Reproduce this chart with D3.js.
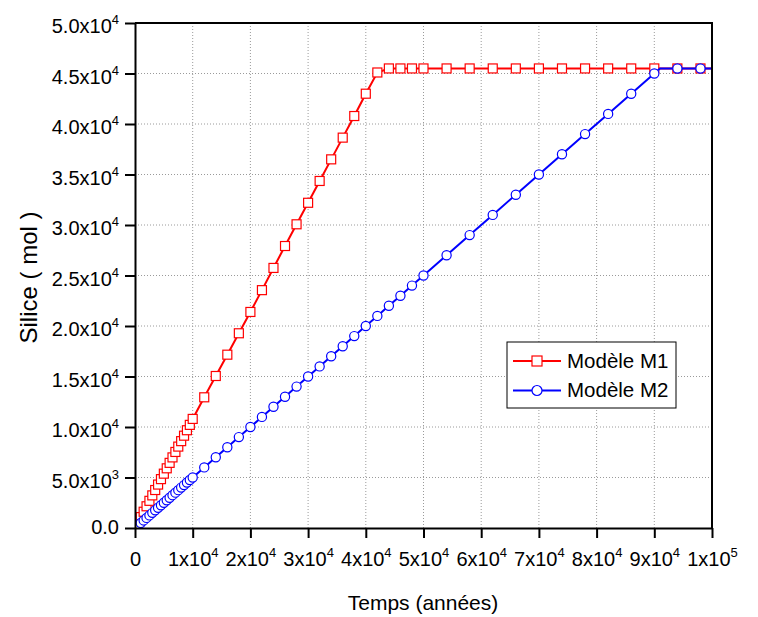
<!DOCTYPE html>
<html>
<head>
<meta charset="utf-8">
<script src="https://cdn.jsdelivr.net/npm/d3@7"></script>
<style>
  body { margin: 0; background: #fff; }
  svg { font-family: "Liberation Sans", Arial, sans-serif; }
</style>
</head>
<body>
<svg id="chart" width="758" height="617"></svg>
<script>
// Modèle M1 (red squares)
const m1Times = [
  0, 500, 1000, 1500, 2000, 2500, 3000, 3500, 4000, 4500, 5000, 5500, 6000,
  6500, 7000, 7500, 8000, 8500, 9000, 9500, 10000, 12000, 14000, 16000, 18000,
  20000, 22000, 24000, 26000, 28000, 30000, 32000, 34000, 36000, 38000, 40000,
  42000, 44000, 46000, 48000, 50000, 54000, 58000, 62000, 66000, 70000, 74000,
  78000, 82000, 86000, 90000, 94000, 98000, 102000,
];
const m1Values = [
  0, 540, 1080, 1610, 2150, 2690, 3230, 3760, 4300, 4840, 5380, 5910, 6450,
  6990, 7530, 8060, 8600, 9140, 9680, 10210, 10800, 12940, 15050, 17160, 19280,
  21390, 23550, 25750, 27920, 30070, 32200, 34360, 36500, 38650, 40790, 43000,
  45100, 45500, 45500, 45500, 45500, 45500, 45500, 45500, 45500, 45500, 45500,
  45500, 45500, 45500, 45500, 45500, 45500, 45500,
];

// Modèle M2 (blue circles)
const m2Times = [
  0, 500, 1000, 1500, 2000, 2500, 3000, 3500, 4000, 4500, 5000, 5500, 6000,
  6500, 7000, 7500, 8000, 8500, 9000, 9500, 10000, 12000, 14000, 16000, 18000,
  20000, 22000, 24000, 26000, 28000, 30000, 32000, 34000, 36000, 38000, 40000,
  42000, 44000, 46000, 48000, 50000, 54000, 58000, 62000, 66000, 70000, 74000,
  78000, 82000, 86000, 90000, 94000, 98000, 102000,
];
const m2Values = [
  0, 250, 500, 750, 1000, 1250, 1500, 1750, 2000, 2250, 2500, 2750, 3000,
  3250, 3500, 3750, 4000, 4250, 4500, 4750, 5000, 6000, 7000, 8000, 9000,
  10000, 11000, 12000, 13000, 14000, 15000, 16000, 17000, 18000, 19000, 20000,
  21000, 22000, 23000, 24000, 25000, 27000, 29000, 31000, 33000, 35000, 37000,
  39000, 41000, 43000, 45000, 45500, 45500, 45500,
];
// point where M2 reaches its plateau (on the line, no marker)
const m2BreakTime = 91000;
const m2BreakValue = 45500;

const xTicks = [0, 10000, 20000, 30000, 40000, 50000, 60000, 70000, 80000, 90000, 100000];
const xTickBase = ["0", "1x10", "2x10", "3x10", "4x10", "5x10", "6x10", "7x10", "8x10", "9x10", "1x10"];
const xTickExp = ["", "4", "4", "4", "4", "4", "4", "4", "4", "4", "5"];

const yTicks = [0, 5000, 10000, 15000, 20000, 25000, 30000, 35000, 40000, 45000, 50000];
const yTickBase = ["0.0", "5.0x10", "1.0x10", "1.5x10", "2.0x10", "2.5x10", "3.0x10", "3.5x10", "4.0x10", "4.5x10", "5.0x10"];
const yTickExp = ["", "3", "4", "4", "4", "4", "4", "4", "4", "4", "4"];

const seriesNames = ["Modèle M1", "Modèle M2"];
const seriesColors = ["#ff0000", "#0000ff"];

const plotLeft = 135, plotRight = 712, plotTop = 23, plotBottom = 528;

const svg = d3.select("#chart");

const x = d3.scaleLinear().domain([0, 100000]).range([plotLeft, plotRight]);
const y = d3.scaleLinear().domain([0, 50000]).range([plotBottom, plotTop]);

// grid
const grid = svg.append("g").attr("class", "grid")
  .attr("stroke", "#9a9a9a")
  .attr("stroke-width", 1)
  .attr("stroke-dasharray", "1,2");
grid.selectAll(".gx")
  .data(xTicks.slice(1, -1))
  .enter()
  .append("line")
  .attr("x1", (d) => x(d))
  .attr("x2", (d) => x(d))
  .attr("y1", plotTop)
  .attr("y2", plotBottom);
grid.selectAll(".gy")
  .data(yTicks.slice(1, -1))
  .enter()
  .append("line")
  .attr("x1", plotLeft)
  .attr("x2", plotRight)
  .attr("y1", (d) => y(d))
  .attr("y2", (d) => y(d));

// data
svg.append("clipPath")
  .attr("id", "plot-clip")
  .append("rect")
  .attr("x", plotLeft)
  .attr("y", plotTop)
  .attr("width", plotRight - plotLeft)
  .attr("height", plotBottom - plotTop);

const plot = svg.append("g").attr("clip-path", "url(#plot-clip)");

const m1 = m1Times.map((t, i) => ({ t: t, v: m1Values[i] }));
const m2 = m2Times.map((t, i) => ({ t: t, v: m2Values[i] }));
const m2Line = m2.concat([{ t: m2BreakTime, v: m2BreakValue }]).sort((a, b) => a.t - b.t);

const line = d3.line()
  .x((d) => x(d.t))
  .y((d) => y(d.v));

plot.append("path")
  .datum(m1)
  .attr("fill", "none")
  .attr("stroke", seriesColors[0])
  .attr("stroke-width", 2)
  .attr("d", line);

plot.selectAll(".sq")
  .data(m1)
  .enter()
  .append("rect")
  .attr("class", "sq")
  .attr("x", (d) => x(d.t) - 4.5)
  .attr("y", (d) => y(d.v) - 4.5)
  .attr("width", 9)
  .attr("height", 9)
  .attr("fill", "#fff")
  .attr("stroke", seriesColors[0])
  .attr("stroke-width", 1.2);

plot.append("path")
  .datum(m2Line)
  .attr("fill", "none")
  .attr("stroke", seriesColors[1])
  .attr("stroke-width", 2)
  .attr("d", line);

plot.selectAll(".ci")
  .data(m2)
  .enter()
  .append("circle")
  .attr("class", "ci")
  .attr("cx", (d) => x(d.t))
  .attr("cy", (d) => y(d.v))
  .attr("r", 4.6)
  .attr("fill", "#fff")
  .attr("stroke", seriesColors[1])
  .attr("stroke-width", 1.2);

// frame (top and right)
svg.append("path")
  .attr("d", `M${plotLeft},${plotTop}H${plotRight}V${plotBottom}`)
  .attr("fill", "none")
  .attr("stroke", "#000")
  .attr("stroke-width", 2);

// axes
const xAxis = d3.axisBottom(x).tickValues(xTicks).tickSize(10).tickSizeOuter(0).tickFormat("");
const yAxis = d3.axisLeft(y).tickValues(yTicks).tickSize(10).tickSizeOuter(0).tickFormat("");

const gx = svg.append("g")
  .attr("transform", `translate(0, ${plotBottom})`)
  .call(xAxis);
const gy = svg.append("g")
  .attr("transform", `translate(${plotLeft}, 0)`)
  .call(yAxis);

[gx, gy].forEach((g) => {
  g.select(".domain").attr("stroke-width", 2);
  g.selectAll(".tick line").attr("stroke-width", 2);
  g.selectAll(".tick text").remove();
});

gx.selectAll(".tick")
  .append("text")
  .attr("fill", "#000")
  .attr("font-size", 20)
  .attr("text-anchor", "middle")
  .attr("y", 38)
  .each(function (d, i) {
    const t = d3.select(this);
    t.append("tspan").text(xTickBase[i]);
    if (xTickExp[i]) {
      t.append("tspan").attr("font-size", 13).attr("dy", -9).text(xTickExp[i]);
    }
  });

gy.selectAll(".tick")
  .append("text")
  .attr("fill", "#000")
  .attr("font-size", 20)
  .attr("text-anchor", "end")
  .attr("x", -16)
  .attr("y", (d, i) => (yTickExp[i] ? 9.5 : 5.5))
  .each(function (d, i) {
    const t = d3.select(this);
    t.append("tspan").text(yTickBase[i]);
    if (yTickExp[i]) {
      t.append("tspan").attr("font-size", 13).attr("dy", -9).text(yTickExp[i]);
    }
  });

// axis titles
svg.append("text")
  .attr("x", (plotLeft + plotRight) / 2 - 0.5)
  .attr("y", 610)
  .attr("text-anchor", "middle")
  .attr("font-size", 21)
  .text("Temps (années)");

svg.append("text")
  .attr("transform", `translate(37, ${(plotTop + plotBottom) / 2 + 2}) rotate(-90)`)
  .attr("text-anchor", "middle")
  .attr("font-size", 24)
  .text("Silice ( mol )");

// legend
const legend = svg.append("g").attr("class", "legend");
legend.append("rect")
  .attr("x", 507)
  .attr("y", 342)
  .attr("width", 169)
  .attr("height", 66)
  .attr("fill", "#fff")
  .attr("stroke", "#000")
  .attr("stroke-width", 1);

const items = legend.selectAll(".legend-item")
  .data(seriesNames)
  .enter()
  .append("g")
  .attr("class", "legend-item")
  .attr("transform", (d, i) => `translate(513, ${361 + i * 29.5})`);

items.append("line")
  .attr("x1", 0)
  .attr("x2", 48)
  .attr("stroke", (d, i) => seriesColors[i])
  .attr("stroke-width", 2);

items.filter((d, i) => i === 0)
  .append("rect")
  .attr("x", 19)
  .attr("y", -5)
  .attr("width", 10)
  .attr("height", 10)
  .attr("fill", "#fff")
  .attr("stroke", seriesColors[0])
  .attr("stroke-width", 1.2);

items.filter((d, i) => i === 1)
  .append("circle")
  .attr("cx", 24)
  .attr("r", 5)
  .attr("fill", "#fff")
  .attr("stroke", seriesColors[1])
  .attr("stroke-width", 1.2);

items.append("text")
  .attr("x", 54)
  .attr("y", 6.5)
  .attr("font-size", 20.5)
  .text((d) => d);
</script>
</body>
</html>
